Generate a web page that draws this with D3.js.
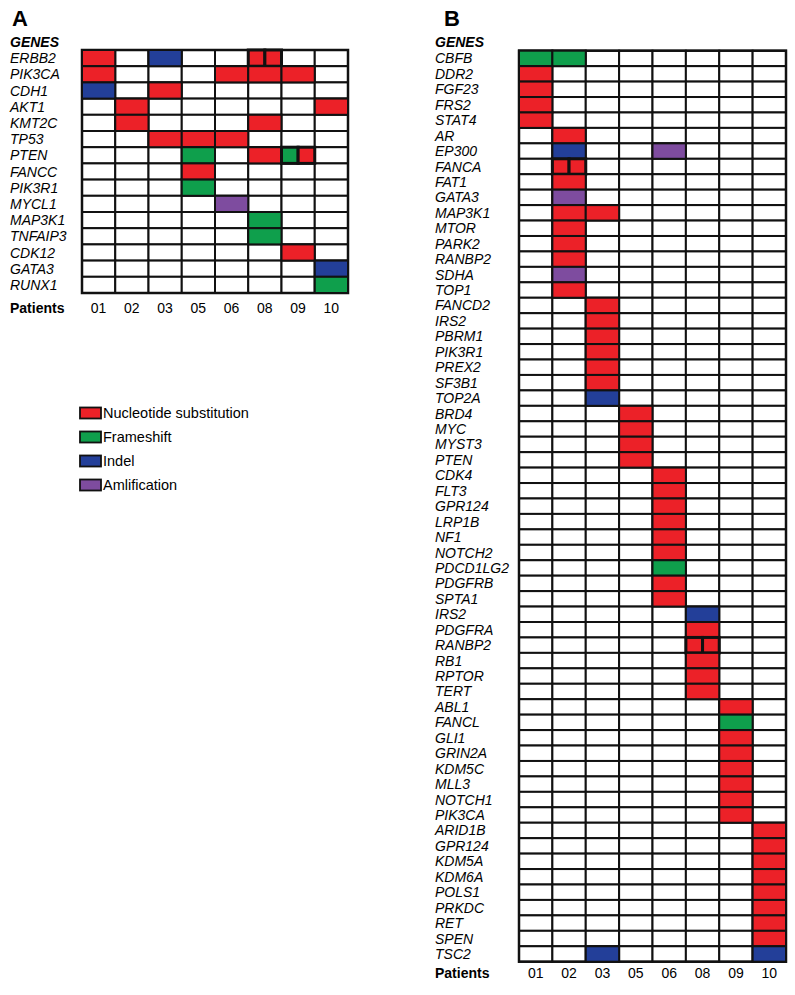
<!DOCTYPE html>
<html>
<head>
<meta charset="utf-8">
<script src="https://cdn.jsdelivr.net/npm/d3@7/dist/d3.min.js"></script>
<style>
  html, body { margin: 0; padding: 0; background: #fff; }
  svg { display: block; font-family: "Liberation Sans", Arial, sans-serif; }
</style>
</head>
<body>
<svg id="chart" width="795" height="995"></svg>
<script>
// ---------- DATA ----------
const patients = ["01", "02", "03", "05", "06", "08", "09", "10"];

const typeNames = ["Nucleotide substitution", "Frameshift", "Indel", "Amlification"];
const typeKeys  = ["N", "F", "I", "A"];

// Panel A genes (rows)
const genesA = ["ERBB2", "PIK3CA", "CDH1", "AKT1", "KMT2C", "TP53", "PTEN", "FANCC",
  "PIK3R1", "MYCL1", "MAP3K1", "TNFAIP3", "CDK12", "GATA3", "RUNX1"];

// Panel A alterations: [row index, patient, type(s)]
const cellsA = [
  [0, "01", ["N"]], [0, "03", ["I"]], [0, "08", ["N", "N"]],
  [1, "01", ["N"]], [1, "06", ["N"]], [1, "08", ["N"]], [1, "09", ["N"]],
  [2, "01", ["I"]], [2, "03", ["N"]],
  [3, "02", ["N"]], [3, "10", ["N"]],
  [4, "02", ["N"]], [4, "08", ["N"]],
  [5, "03", ["N"]], [5, "05", ["N"]], [5, "06", ["N"]],
  [6, "05", ["F"]], [6, "08", ["N"]], [6, "09", ["F", "N"]],
  [7, "05", ["N"]],
  [8, "05", ["F"]],
  [9, "06", ["A"]],
  [10, "08", ["F"]],
  [11, "08", ["F"]],
  [12, "09", ["N"]],
  [13, "10", ["I"]],
  [14, "10", ["F"]]
];

// Panel B genes (rows)
const genesB = ["CBFB", "DDR2", "FGF23", "FRS2", "STAT4",
  "AR", "EP300", "FANCA", "FAT1", "GATA3", "MAP3K1", "MTOR", "PARK2", "RANBP2", "SDHA", "TOP1",
  "FANCD2", "IRS2", "PBRM1", "PIK3R1", "PREX2", "SF3B1", "TOP2A",
  "BRD4", "MYC", "MYST3", "PTEN",
  "CDK4", "FLT3", "GPR124", "LRP1B", "NF1", "NOTCH2", "PDCD1LG2", "PDGFRB", "SPTA1",
  "IRS2", "PDGFRA", "RANBP2", "RB1", "RPTOR", "TERT",
  "ABL1", "FANCL", "GLI1", "GRIN2A", "KDM5C", "MLL3", "NOTCH1", "PIK3CA",
  "ARID1B", "GPR124", "KDM5A", "KDM6A", "POLS1", "PRKDC", "RET", "SPEN", "TSC2"];

// Panel B alterations: [row index, patient, type(s)]
const cellsB = [
  [0, "01", ["F"]], [0, "02", ["F"]],
  [1, "01", ["N"]], [2, "01", ["N"]], [3, "01", ["N"]], [4, "01", ["N"]],
  [5, "02", ["N"]],
  [6, "02", ["I"]], [6, "06", ["A"]],
  [7, "02", ["N", "N"]],
  [8, "02", ["N"]],
  [9, "02", ["A"]],
  [10, "02", ["N"]], [10, "03", ["N"]],
  [11, "02", ["N"]], [12, "02", ["N"]], [13, "02", ["N"]],
  [14, "02", ["A"]],
  [15, "02", ["N"]],
  [16, "03", ["N"]], [17, "03", ["N"]], [18, "03", ["N"]], [19, "03", ["N"]],
  [20, "03", ["N"]], [21, "03", ["N"]], [22, "03", ["I"]],
  [23, "05", ["N"]], [24, "05", ["N"]], [25, "05", ["N"]], [26, "05", ["N"]],
  [27, "06", ["N"]], [28, "06", ["N"]], [29, "06", ["N"]], [30, "06", ["N"]],
  [31, "06", ["N"]], [32, "06", ["N"]], [33, "06", ["F"]], [34, "06", ["N"]], [35, "06", ["N"]],
  [36, "08", ["I"]], [37, "08", ["N"]], [38, "08", ["N", "N"]], [39, "08", ["N"]],
  [40, "08", ["N"]], [41, "08", ["N"]],
  [42, "09", ["N"]], [43, "09", ["F"]], [44, "09", ["N"]], [45, "09", ["N"]],
  [46, "09", ["N"]], [47, "09", ["N"]], [48, "09", ["N"]], [49, "09", ["N"]],
  [50, "10", ["N"]], [51, "10", ["N"]], [52, "10", ["N"]], [53, "10", ["N"]],
  [54, "10", ["N"]], [55, "10", ["N"]], [56, "10", ["N"]], [57, "10", ["N"]],
  [58, "03", ["I"]], [58, "10", ["I"]]
];

// ---------- STYLE ----------
const color = d3.scaleOrdinal()
  .domain(typeKeys)
  .range(["#ec2128", "#0f9f4c", "#233f99", "#7e4c9f"]);

const svg = d3.select("#chart");

function panel(opts) {
  const { letter, letterX, labelX, genes, cells, x0, x1, y0, y1, patientsY } = opts;
  const g = svg.append("g");

  const x = d3.scaleBand().domain(patients).range([x0, x1]);
  const y = d3.scaleBand().domain(d3.range(genes.length)).range([y0, y1]);

  // Panel letter
  g.append("text").attr("x", letterX).attr("y", 26)
    .attr("font-size", 22).attr("font-weight", "bold").text(letter);

  // GENES header
  g.append("text").attr("x", labelX).attr("y", 47)
    .attr("font-size", 14).attr("font-weight", "bold").attr("font-style", "italic")
    .text("GENES");

  // Gene labels
  g.selectAll("text.gene").data(genes).join("text")
    .attr("class", "gene")
    .attr("x", labelX)
    .attr("y", (d, i) => y(i) + y.bandwidth() / 2 + 5)
    .attr("font-size", 14).attr("font-style", "italic")
    .text(d => d);

  // Empty grid cells
  const all = [];
  genes.forEach((gn, i) => patients.forEach(p => all.push([i, p])));
  g.selectAll("rect.cell").data(all).join("rect")
    .attr("class", "cell")
    .attr("x", d => x(d[1]))
    .attr("y", d => y(d[0]))
    .attr("width", x.bandwidth())
    .attr("height", y.bandwidth())
    .attr("fill", "#fff")
    .attr("stroke", "#111")
    .attr("stroke-width", 2);

  // Outer border
  g.append("rect").attr("x", x0).attr("y", y0)
    .attr("width", x1 - x0).attr("height", y1 - y0)
    .attr("fill", "none").attr("stroke", "#111").attr("stroke-width", 2.5);

  // Altered cells (split when several alterations)
  const parts = [];
  cells.forEach(([r, p, types]) => {
    types.forEach((t, k) => parts.push({ r, p, t, k, n: types.length }));
  });
  g.selectAll("rect.alt").data(parts).join("rect")
    .attr("class", "alt")
    .attr("x", d => x(d.p) + d.k * x.bandwidth() / d.n)
    .attr("y", d => y(d.r))
    .attr("width", d => x.bandwidth() / d.n)
    .attr("height", y.bandwidth())
    .attr("fill", d => color(d.t))
    .attr("stroke", "#111")
    .attr("stroke-width", d => d.n > 1 ? 3 : 2);

  // Patients row
  g.append("text").attr("x", labelX).attr("y", patientsY)
    .attr("font-size", 14).attr("font-weight", "bold").text("Patients");
  g.selectAll("text.pat").data(patients).join("text")
    .attr("class", "pat")
    .attr("x", d => x(d) + x.bandwidth() / 2)
    .attr("y", patientsY)
    .attr("text-anchor", "middle")
    .attr("font-size", 14)
    .text(d => d);
}

panel({ letter: "A", letterX: 12, labelX: 10, genes: genesA, cells: cellsA,
  x0: 82, x1: 348, y0: 50, y1: 293, patientsY: 313 });

panel({ letter: "B", letterX: 444, labelX: 435, genes: genesB, cells: cellsB,
  x0: 519, x1: 786, y0: 50.7, y1: 961.7, patientsY: 978 });

// Legend
const legY = d3.scalePoint().domain(typeKeys).range([413, 485]);
const leg = svg.append("g");
leg.selectAll("rect").data(typeKeys).join("rect")
  .attr("x", 80).attr("y", d => legY(d) - 5.5)
  .attr("width", 21).attr("height", 11)
  .attr("fill", d => color(d))
  .attr("stroke", "#111").attr("stroke-width", 1.8);
leg.selectAll("text").data(typeKeys).join("text")
  .attr("x", 103).attr("y", d => legY(d) + 5)
  .attr("font-size", 14.5)
  .text((d, i) => typeNames[i]);
</script>
</body>
</html>
